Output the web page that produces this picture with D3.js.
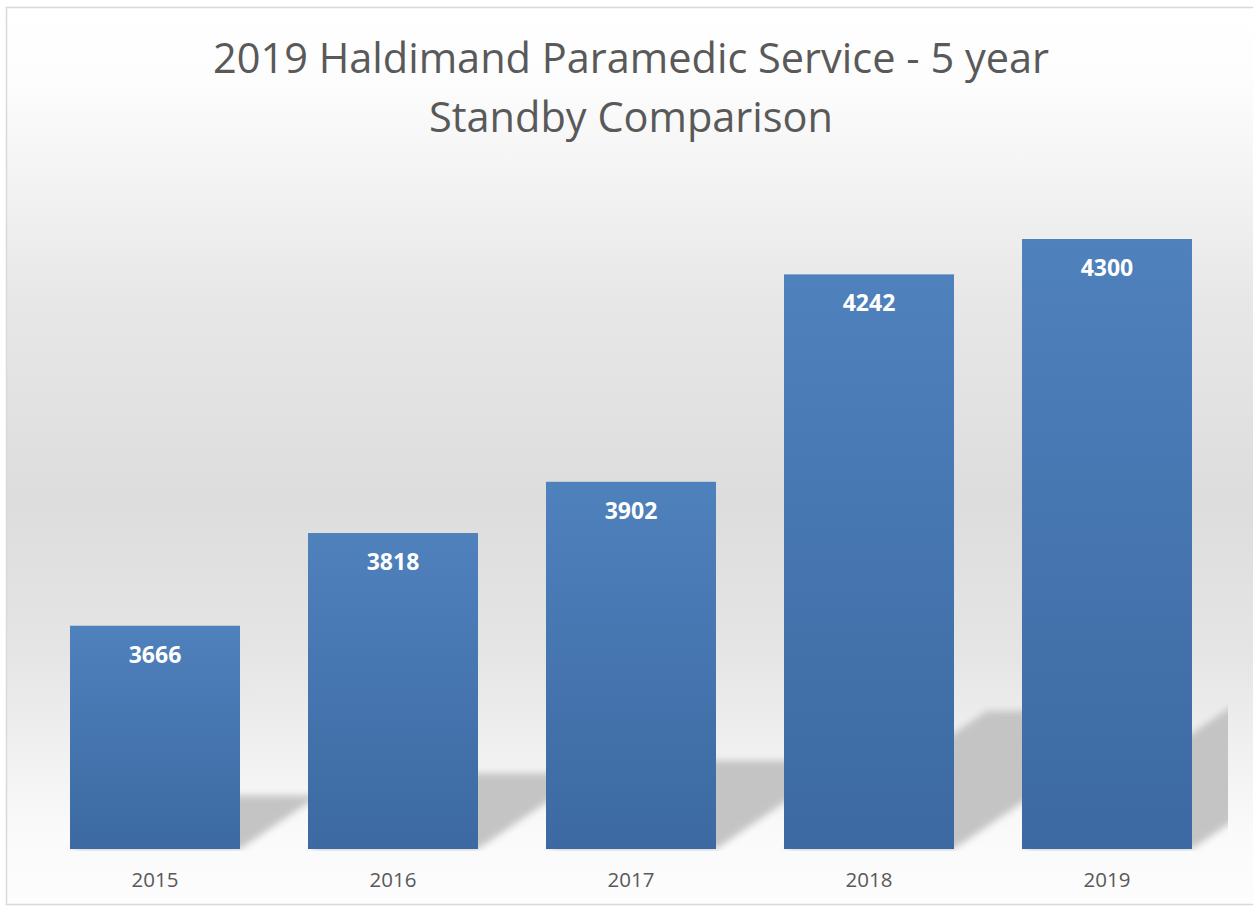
<!DOCTYPE html>
<html>
<head>
<meta charset="utf-8">
<script src="https://cdn.jsdelivr.net/npm/d3@7"></script>
<style>
  html, body { margin: 0; padding: 0; background: #ffffff; }
  svg { display: block; }
</style>
</head>
<body>
<div class="container"></div>
<script>
const years = ['2015', '2016', '2017', '2018', '2019'];
const standbys = [3666, 3818, 3902, 4242, 4300];
const titleLines = ['2019 Haldimand Paramedic Service - 5 year', 'Standby Comparison'];
const yDomain = [3300, 4400];

const width = 1253;
const height = 907;
const font = '"Open Sans", "Noto Sans", sans-serif';

const x = d3.scaleBand().domain(years).range([36, 1226]).paddingInner(0.2857).paddingOuter(0.1429);
const y = d3.scaleLinear().domain(yDomain).range([849, 178]);

const svg = d3.select('.container')
    .append('svg')
    .attr('width', width)
    .attr('height', height);

const defs = svg.append('defs');

// chart area background: white -> grey -> white
const bg = defs.append('linearGradient')
    .attr('id', 'bg')
    .attr('x1', 0).attr('y1', 0).attr('x2', 0).attr('y2', 1);
[[0, '#ffffff'], [0.08, '#fdfdfd'], [0.33, '#e7e7e7'], [0.55, '#dddddd'], [0.72, '#e5e5e5'], [0.92, '#fafafa'], [1, '#fdfdfd']]
    .forEach(s => bg.append('stop').attr('offset', s[0]).attr('stop-color', s[1]));

const barGrad = defs.append('linearGradient')
    .attr('id', 'barGrad')
    .attr('x1', 0).attr('y1', 0).attr('x2', 0).attr('y2', 1);
barGrad.append('stop').attr('offset', 0).attr('stop-color', '#4f81bd');
barGrad.append('stop').attr('offset', 1).attr('stop-color', '#3c69a1');

defs.append('filter')
    .attr('id', 'blur')
    .attr('x', '-10%').attr('y', '-10%').attr('width', '120%').attr('height', '120%')
    .append('feGaussianBlur')
    .attr('stdDeviation', 3.5);

defs.append('clipPath')
    .attr('id', 'plotClip')
    .append('rect')
    .attr('x', 0).attr('y', 0)
    .attr('width', 1228).attr('height', 851);

svg.append('rect')
    .attr('x', 6.5).attr('y', 7.5)
    .attr('width', width)
    .attr('height', 897)
    .attr('fill', 'url(#bg)')
    .attr('stroke', '#d9d9d9')
    .attr('stroke-width', 1.5);

// slanted perspective shadows behind the bars
const base = y(yDomain[0]);
const shadowPath = d => {
    const h = base - y(d.v);
    const dh = h * 0.24;
    const dx = dh / 0.68;
    const x0 = x(d.year);
    const x1 = x0 + x.bandwidth();
    return `M${x0},${base}L${x1},${base}L${x1 + dx},${base - dh}L${x0 + dx},${base - dh}Z`;
};

const data = years.map((year, i) => ({ year, v: standbys[i] }));

svg.append('g')
    .attr('clip-path', 'url(#plotClip)')
    .append('g')
    .attr('filter', 'url(#blur)')
    .selectAll('path')
    .data(data)
    .enter()
    .append('path')
    .attr('d', shadowPath)
    .attr('fill', '#c4c4c4');

svg.append('g')
    .selectAll('rect')
    .data(data)
    .enter()
    .append('rect')
    .attr('x', d => x(d.year))
    .attr('y', d => y(d.v))
    .attr('width', x.bandwidth())
    .attr('height', d => base - y(d.v))
    .attr('fill', 'url(#barGrad)');

svg.append('g')
    .selectAll('text')
    .data(data)
    .enter()
    .append('text')
    .attr('x', d => x(d.year) + x.bandwidth() / 2)
    .attr('y', d => y(d.v) + 37)
    .attr('text-anchor', 'middle')
    .attr('font-family', font)
    .attr('font-weight', 'bold')
    .attr('font-size', 23)
    .attr('fill', '#ffffff')
    .text(d => d.v);

const xAxis = svg.append('g')
    .attr('transform', `translate(0,${base})`)
    .call(d3.axisBottom(x).tickSize(0).tickPadding(0));
xAxis.select('.domain').remove();
xAxis.selectAll('text')
    .attr('y', 38)
    .attr('dy', null)
    .attr('font-family', font)
    .attr('font-size', 20.5)
    .attr('fill', '#595959');

svg.append('g')
    .selectAll('text')
    .data(titleLines)
    .enter()
    .append('text')
    .attr('x', 631)
    .attr('y', (d, i) => 73 + i * 59)
    .attr('text-anchor', 'middle')
    .attr('font-family', font)
    .attr('font-size', 41.5)
    .attr('fill', '#595959')
    .text(d => d);
</script>
</body>
</html>
